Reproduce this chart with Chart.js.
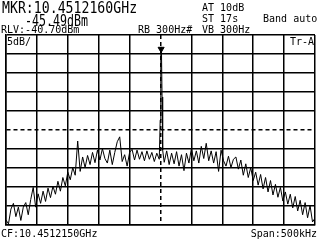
<!DOCTYPE html>
<html>
<head>
<meta charset="utf-8">
<script src="https://cdn.jsdelivr.net/npm/chart.js@4.4.1/dist/chart.umd.min.js"></script>
<style>
  html, body { margin: 0; padding: 0; background: #fff; }
  #wrap { position: relative; width: 320px; height: 240px; }
</style>
</head>
<body>
<div id="wrap"><canvas id="sa" width="320" height="240"></canvas></div>
<script>
// sweep readout, offsets from CF in kHz
const freqKHz = [
  -250,-246,-242,-238,-234,-230,-226,-222,-218,-214,-210,-206,-202,-198,-194,-190,
  -186,-182,-178,-174,-170,-166,-162,-158,-154,-150,-146,-142,-138,-134,-130,-126,
  -122,-118,-114,-110,-106,-102,-98,-94,-90,-86,-82,-78,-74,-70,-66,-62,
  -58,-54,-50,-46,-42,-38,-34,-30,-26,-22,-18,-14,-10,-6,-2,
  -0.5,0.5,1.5,2.5,3.5,
  6,10,14,18,22,26,30,34,38,42,46,50,54,58,62,66,
  70,74,78,82,86,90,94,98,102,106,110,114,118,122,126,130,
  134,138,142,146,150,154,158,162,166,170,174,178,182,186,190,194,
  198,202,206,210,214,218,222,226,230,234,238,242,246,250
];
// trace A level in dBm
const levelDbm = [
  -89.4,-90.4,-86.5,-85.0,-88.5,-86.0,-89.5,-86.0,-84.8,-88.0,-84.0,-80.8,-86.0,-82.5,-85.0,-81.8,
  -84.5,-81.0,-83.5,-80.5,-82.6,-79.2,-81.8,-78.2,-80.4,-76.8,-78.8,-75.6,-77.6,-68.6,-76.6,-72.8,
  -75.6,-72.4,-74.8,-71.6,-74.3,-71.0,-73.6,-70.6,-73.2,-74.4,-71.0,-74.8,-71.6,-68.8,-67.5,-74.0,
  -72.2,-75.2,-71.6,-70.8,-73.6,-71.0,-73.4,-71.4,-73.8,-71.2,-73.4,-71.6,-74.0,-71.8,-73.4,
  -63.1,-43.9,-43.9,-57.0,-71.0,
  -74.2,-71.2,-74.8,-71.8,-74.6,-71.4,-75.2,-72.2,-76.4,-71.8,-74.4,-70.6,-73.8,-71.2,-74.4,-70.0,
  -73.2,-69.2,-73.8,-71.2,-74.4,-71.4,-76.6,-71.0,-73.8,-75.2,-72.6,-75.6,-73.4,-72.8,-76.0,-73.6,
  -77.6,-74.6,-78.2,-75.6,-79.0,-76.8,-80.2,-77.4,-81.2,-78.2,-82.0,-79.0,-82.8,-80.0,-83.4,-80.8,
  -84.4,-82.0,-85.2,-82.6,-86.2,-83.2,-87.0,-84.2,-88.0,-84.8,-88.8,-85.6,-89.9,-88.9
];
const markerKHz = [1];
const markerDbm = [-44.4];

const refLevel = -40.7;   // dBm, top of screen
const dbPerDiv = 5;
const spanKHz = 500;

const headerBig = [
  { text: 'MKR:10.4512160GHz', x: 2, y: 13, sx: 0.88 },
  { text: '-45.49dBm', x: 25, y: 26, sx: 0.775 }
];
const headerSmall = [
  { text: 'RLV:-40.70dBm', x: 1, y: 33 },
  { text: 'RB 300Hz#', x: 138, y: 33 },
  { text: 'AT 10dB', x: 202, y: 11 },
  { text: 'ST 17s', x: 202, y: 22 },
  { text: 'Band auto', x: 263, y: 22 },
  { text: 'VB 300Hz', x: 202, y: 33 },
  { text: '5dB/', x: 7, y: 45 },
  { text: 'Tr-A', x: 290, y: 45 },
  { text: 'CF:10.4512150GHz', x: 1, y: 237 },
  { text: 'Span:500kHz', x: 317, y: 237, right: true }
];

function drawText(ctx, t, size, sx) {
  ctx.save();
  ctx.font = size + 'px "DejaVu Sans Mono"';
  ctx.fillStyle = '#000';
  ctx.textBaseline = 'alphabetic';
  const w = ctx.measureText(t.text).width * sx;
  ctx.translate(t.right ? t.x - w : t.x, t.y);
  ctx.scale(sx, 1);
  ctx.fillText(t.text, 0, 0);
  ctx.restore();
}

const readout = {
  id: 'readout',
  afterDraw(chart) {
    const ctx = chart.ctx;
    headerBig.forEach(t => drawText(ctx, t, 15, t.sx));
    headerSmall.forEach(t => drawText(ctx, t, 11, 0.91));
  }
};

// 6th line of each axis is the dashed centre / display line
const gridDash = ctx => (ctx.tick && ctx.index === 5) ? [4, 3] : [];

new Chart(document.getElementById('sa'), {
  type: 'line',
  data: {
    datasets: [{
      data: freqKHz.map((f, i) => ({ x: f, y: levelDbm[i] })),
      borderColor: '#000',
      borderWidth: 1,
      pointRadius: 0,
      tension: 0
    }, {
      data: markerKHz.map((f, i) => ({ x: f, y: markerDbm[i] })),
      showLine: false,
      pointStyle: 'triangle',
      rotation: 180,
      pointRadius: 3.5,
      backgroundColor: '#000',
      borderColor: '#000',
      borderWidth: 1
    }]
  },
  options: {
    responsive: false,
    animation: false,
    devicePixelRatio: 1,
    layout: { padding: { left: 6, top: 35, right: 5, bottom: 15 } },
    plugins: { legend: { display: false }, tooltip: { enabled: false } },
    scales: {
      x: {
        type: 'linear',
        min: -spanKHz / 2,
        max: spanKHz / 2,
        ticks: { display: false, stepSize: spanKHz / 10 },
        grid: { color: '#000', lineWidth: 1.5, drawTicks: false },
        border: { color: '#000', width: 1.5, dash: gridDash }
      },
      y: {
        min: refLevel - dbPerDiv * 10,
        max: refLevel,
        ticks: { display: false, stepSize: dbPerDiv },
        grid: { color: '#000', lineWidth: 1.5, drawTicks: false },
        border: { color: '#000', width: 1.5, dash: gridDash }
      }
    }
  },
  plugins: [readout]
});
</script>
</body>
</html>
